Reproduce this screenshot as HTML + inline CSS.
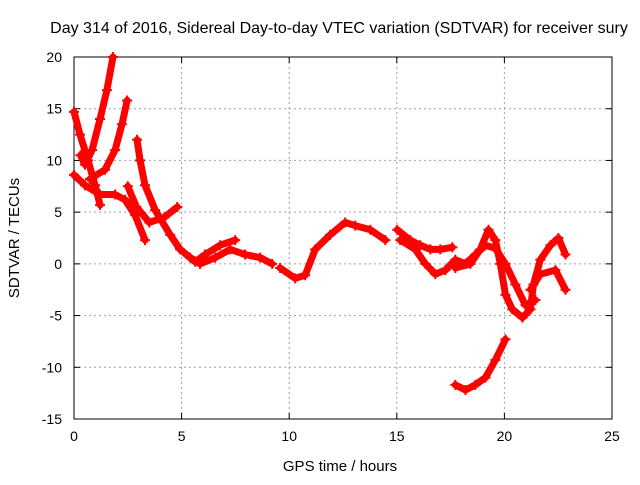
<!DOCTYPE html>
<html><head><meta charset="utf-8"><style>
body{margin:0;background:#fff}
svg text{font-family:"Liberation Sans",sans-serif;font-size:14px;fill:#000}
</style></head><body>
<svg id="chart" width="640" height="480">
<text x="339" y="33" text-anchor="middle" style="font-size:16px">Day 314 of 2016, Sidereal Day-to-day VTEC variation (SDTVAR) for receiver sury</text>
<text x="340" y="471" text-anchor="middle" style="font-size:15px">GPS time / hours</text>
<text transform="translate(19,238) rotate(-90)" text-anchor="middle" style="font-size:15px">SDTVAR / TECUs</text>
<g id="grid"></g>
<g id="axes"></g>
<g id="series"></g>
</svg>
<script>
const xTicks=[0,5,10,15,20,25];
const yTicks=[-15,-10,-5,0,5,10,15,20];
const s1x=[0,0.28,0.65,0.98,1.21];
const s1y=[14.7,12.5,10,7.6,5.7];
const s2x=[0.3,0.51,0.84,1.21,1.53,1.81];
const s2y=[10.5,9.6,11,14,16.8,20];
const s3x=[0.74,1.44,1.91,2.23,2.47];
const s3y=[8.2,9.1,11,13.5,15.8];
const s4x=[0,0.51,1.21,1.91,2.37,2.84,3.3];
const s4y=[8.6,7.6,6.7,6.7,6.2,4.7,2.3];
const s5x=[2.93,3.07,3.3,3.77,4.47,4.93,5.63,6.09,6.79,7.49];
const s5y=[12,10,7.6,5.2,2.8,1.4,0.2,0.9,1.8,2.3];
const s6x=[2.5,2.9,3.5,4.2,4.8];
const s6y=[7.5,5.5,4,4.5,5.5];
const s7x=[5.4,5.86,6.56,7.26,7.95,8.65,9.21];
const s7y=[0.6,0,0.6,1.4,0.9,0.6,0];
const s8x=[9.58,10.28,10.74,11.21,11.9,12.6,13.07,13.77,14.47];
const s8y=[-0.4,-1.4,-1.1,1.4,2.8,4,3.7,3.3,2.3];
const s9x=[15.02,15.63,16.09,16.56,17.02,17.58];
const s9y=[3.3,2.3,1.8,1.4,1.4,1.6];
const s10x=[15.16,15.86,16.33,16.79,17.26,17.72,18.19,18.65,19.12,19.58,20.05,20.51,20.98,21.44];
const s10y=[2.3,1.4,0,-1,-0.6,0.4,0,0.9,1.8,1.5,0,-2,-4,-3.5];
const s11x=[17.72,18.42,18.88,19.26,19.58,19.81,20.05,20.37,20.84,21.21,21.35,21.67,22.14,22.51,22.84];
const s11y=[-0.4,0,1.4,3.3,2.3,0,-3,-4.4,-5.2,-4.4,-2,0.4,1.8,2.5,0.9];
const s12x=[17.72,18.19,18.65,19.12,19.58,20.05];
const s12y=[-11.7,-12.2,-11.7,-11,-9.3,-7.3];
const s13x=[21.21,21.67,22.37,22.84];
const s13y=[-2.5,-1,-0.6,-2.5];
const seriesX=[s1x,s2x,s3x,s4x,s5x,s6x,s7x,s8x,s9x,s10x,s11x,s12x,s13x];
const seriesY=[s1y,s2y,s3y,s4y,s5y,s6y,s7y,s8y,s9y,s10y,s11y,s12y,s13y];
const X0=74,X1=612,Y0=419,Y1=57;
function sx(v){return X0+(v-0)/(25-0)*(X1-X0);}
function sy(v){return Y0-(v+15)/(35)*(Y0-Y1);}
const NS="http://www.w3.org/2000/svg";
function mk(t,a,p){const e=document.createElementNS(NS,t);for(const k in a)e.setAttribute(k,a[k]);p.appendChild(e);return e;}
const grid=document.getElementById('grid'),axes=document.getElementById('axes'),ser=document.getElementById('series');
xTicks.forEach(t=>{
 if(t>0&&t<25){const l=mk('line',{x1:sx(t),x2:sx(t),y1:Y1,y2:Y0,stroke:'#a0a0a0','stroke-dasharray':'2,3'},grid);
 
 }
 mk('line',{x1:sx(t),x2:sx(t),y1:Y0,y2:Y0-6,stroke:'#000'},axes);
 mk('line',{x1:sx(t),x2:sx(t),y1:Y1,y2:Y1+6,stroke:'#000'},axes);
 const tx=mk('text',{x:sx(t),y:Y0+22,'text-anchor':'middle'},axes);tx.textContent=t;
 
 
});
yTicks.forEach(t=>{
 if(t>-15&&t<20){const l=mk('line',{x1:X0,x2:X1,y1:sy(t),y2:sy(t),stroke:'#a0a0a0','stroke-dasharray':'2,3'},grid);
 
 }
 mk('line',{x1:X0,x2:X0+6,y1:sy(t),y2:sy(t),stroke:'#000'},axes);
 mk('line',{x1:X1,x2:X1-6,y1:sy(t),y2:sy(t),stroke:'#000'},axes);
 const tx=mk('text',{x:X0-12,y:sy(t)+5,'text-anchor':'end'},axes);tx.textContent=t;
 
 
});
mk('rect',{x:X0,y:Y1,width:X1-X0,height:Y0-Y1,fill:'none',stroke:'#000'},axes);
seriesX.forEach((xs,i)=>{
 const ys=seriesY[i];
 const g=mk('g',{},ser);
 
 
 mk('polyline',{points:xs.map((x,j)=>sx(x)+','+sy(ys[j])).join(' '),fill:'none',stroke:'#f00','stroke-width':7,'stroke-linejoin':'round','stroke-linecap':'round'},g);
 xs.forEach((x,j)=>{
  const p=mk('path',{d:`M${sx(x)-5},${sy(ys[j])}h10M${sx(x)},${sy(ys[j])-5}v10`,stroke:'#f00','stroke-width':2},g);
  
  
 });
});
</script>
</body></html>
